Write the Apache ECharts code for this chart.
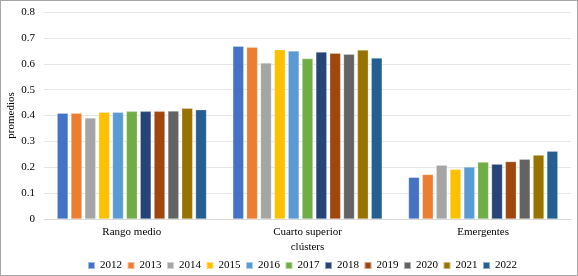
<!DOCTYPE html>
<html><head><meta charset="utf-8">
<script src="https://cdn.jsdelivr.net/npm/echarts@6/dist/echarts.min.js"></script>
<style>html,body{margin:0;padding:0;background:#fff}#c{width:578px;height:276px;box-sizing:border-box;border:1px solid #a6a6a6}</style>
</head><body><div id="c"></div>
<script>
const categories = ["Rango medio", "Cuarto superior", "Emergentes"];
const years = ["2012","2013","2014","2015","2016","2017","2018","2019","2020","2021","2022"];
const s2012 = [0.409, 0.668, 0.161];
const s2013 = [0.409, 0.664, 0.172];
const s2014 = [0.390, 0.603, 0.208];
const s2015 = [0.413, 0.654, 0.192];
const s2016 = [0.413, 0.649, 0.201];
const s2017 = [0.416, 0.620, 0.220];
const s2018 = [0.416, 0.645, 0.212];
const s2019 = [0.416, 0.641, 0.222];
const s2020 = [0.417, 0.637, 0.231];
const s2021 = [0.428, 0.653, 0.247];
const s2022 = [0.422, 0.622, 0.262];
const seriesValues = [s2012,s2013,s2014,s2015,s2016,s2017,s2018,s2019,s2020,s2021,s2022];
const colors = ["#4472C4","#ED7D31","#A5A5A5","#FFC000","#5B9BD5","#70AD47","#264478","#9E480E","#636363","#997300","#255E91"];
const yTicks = [0,0.1,0.2,0.3,0.4,0.5,0.6,0.7,0.8];

const font = "Liberation Serif";
const chart = echarts.init(document.getElementById('c'), null, {renderer:'canvas'});
chart.setOption({
  animation:false,
  color: colors,
  textStyle:{fontFamily:font, color:'#000'},
  grid:{left:43, right:6, top:11, bottom:56, containLabel:false, outerBoundsMode:'none'},
  legend:{
    data: years, top:254, left:81, itemWidth:7, itemHeight:7, itemGap:4.5,
    icon:'rect', textStyle:{fontFamily:font, fontSize:11, color:'#000'}
  },
  xAxis:{
    type:'category', data:categories, name:'clústers', nameLocation:'middle', nameGap:23,
    nameMoveOverlap:false,
    nameTextStyle:{fontFamily:font, fontSize:11, color:'#000'},
    axisLine:{lineStyle:{color:'#d9d9d9'}}, axisTick:{show:false},
    axisLabel:{fontFamily:font, fontSize:11, color:'#000', margin:8}
  },
  yAxis:{
    type:'value', min:0, max:0.8, interval:0.1, name:'promedios', nameLocation:'middle', nameGap:27,
    nameMoveOverlap:false,
    nameTextStyle:{fontFamily:font, fontSize:11, color:'#000'},
    axisLine:{show:false}, axisTick:{show:false},
    axisLabel:{fontFamily:font, fontSize:11, color:'#000', margin:9,
      formatter:v=>{ const t = yTicks.find(x=>Math.abs(x-v)<1e-9); return t===0?'0':String(t); }},
    splitLine:{lineStyle:{color:'#e6e6e6'}}
  },
  series: years.map((y,i)=>({
    name:y, type:'bar', data:seriesValues[i], barGap:'27%', barCategoryGap:'15%',
    itemStyle:{color:colors[i], borderColor:'rgba(255,255,255,0.5)', borderWidth:0.5}
  }))
});
</script></body></html>
